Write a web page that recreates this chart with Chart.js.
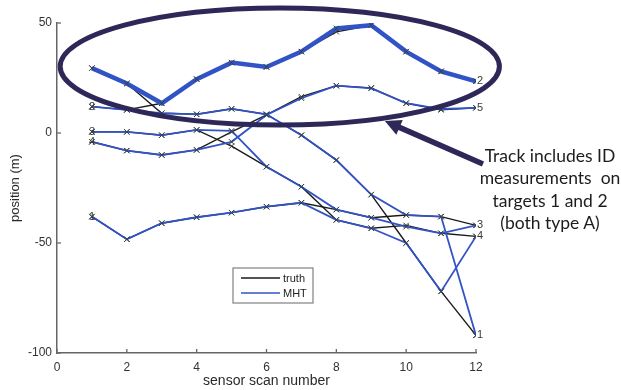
<!DOCTYPE html>
<html><head><meta charset="utf-8">
<script src="https://cdn.jsdelivr.net/npm/chart.js@4/dist/chart.umd.min.js"></script>
<style>
html,body{margin:0;padding:0;background:#fff;}
#wrap{position:relative;width:621px;height:390px;background:#fff;}
canvas{position:absolute;left:0;top:0;}
.note{position:absolute;left:470px;top:145px;width:160px;text-align:center;font-family:Lato,'Open Sans',sans-serif;font-size:17.5px;line-height:22.3px;color:#1c1c1c;white-space:nowrap;}
</style></head><body>
<div id="wrap"><canvas id="c" width="621" height="390"></canvas>
<div class="note">Track includes ID<br>measurements&nbsp; on<br>targets 1 and 2<br>(both type A)</div></div>
<script>
// ---- data ----
const scans = [1,2,3,4,5,6,7,8,9,10,11,12];
// truth (black)
const truthA = [29.5, 22.5, 9, 8.5, 11, 8.5, -1, -12.3, -28, -50, -72, -92];
const truthB = [12, 10.5, 13.5, 24.5, 32, 30, 37, 46, 49, 37, 28, 23.5];
const truthC = [0.5, 0.5, -1, 1.4, -6, -15.3, -24.4, -39.5, -43.3, -42, -45.6, -47];
const truthD = [-4, -8, -10, -7.7, 0.5, 8.2, 16.5, 21.5, 20.5, 13.5, 10.5, 11.5];
const truthE = [-38, -48.3, -41, -38.3, -36.2, -33.5, -31.7, -34.8, -38.5, -37.3, -38, -42];
// MHT (blue)
const mhtThick = [29.5, 22.5, 13.5, 24.5, 32, 30, 37, 47.5, 49, 37, 28, 23.5];
const mhtA = [12, 10.5, 9, 8.5, 11, 8.5, -1, -12.3, -28, -37.3, -38, -92];
const mhtC = [0.5, 0.5, -1, 1.4, 1, -15.3, -24.4, -34.8, -38.5, -42.6, -45.6, -42];
const mhtD = [-4, -8, -10, -7.7, -4, 8.2, 15.8, 21.5, 20.3, 13.6, 10.9, 11.4];
const mhtE = [-38, -48.3, -41, -38.3, -36.2, -33.5, -31.7, -39.5, -43.3, -50, -72, -47];
// track id labels: [scan, value, text]
const startLabels = [[1, 12, '2'], [1, 0.5, '3'], [1, -4, '4'], [1, -38, '1']];
const endLabels = [[12, 23.5, '2'], [12, 11.4, '5'], [12, -42, '3'], [12, -47, '4'], [12, -92, '1']];
const xTicks = [0, 2, 4, 6, 8, 10, 12];
const yTicks = [-100, -50, 0, 50];
const legendItems = ['truth', 'MHT'];
// annotation ellipse/arrow in data units
const ellipseData = {cx: 6.38, cy: 30.2, rx: 6.29, ry: 26.6};
const arrowData = {x0: 12.2, y0: -14.1, x1: 9.39, y1: 5.45};

const BLACK = '#1a1a1a', BLUE = '#3253c6', MARK = '#34403a', NAVY = '#2d2858';

function mk(arr, color, width, order) {
  return {
    data: arr.map((v, i) => ({x: scans[i], y: v})),
    borderColor: color, borderWidth: width, fill: false, tension: 0,
    pointStyle: 'crossRot', pointRadius: 3.8, pointBorderColor: MARK,
    pointBorderWidth: 1, pointBackgroundColor: 'transparent', order
  };
}

const overlay = {
  id: 'overlay',
  afterDraw(chart) {
    const {ctx, scales: {x, y}, chartArea: ca} = chart;
    ctx.save();
    // inward tick marks
    ctx.strokeStyle = '#666'; ctx.lineWidth = 1.3;
    xTicks.forEach(t => { const p = x.getPixelForValue(t); ctx.beginPath(); ctx.moveTo(p, ca.bottom); ctx.lineTo(p, ca.bottom - 4); ctx.stroke(); });
    yTicks.forEach(t => { const p = y.getPixelForValue(t); ctx.beginPath(); ctx.moveTo(ca.left, p); ctx.lineTo(ca.left + 4, p); ctx.stroke(); });
    // track labels
    ctx.fillStyle = '#3a3a3a'; ctx.font = '11px "Liberation Sans", Arial, sans-serif'; ctx.textBaseline = 'middle'; ctx.textAlign = 'left';
    startLabels.forEach(([sx, sv, t]) => ctx.fillText(t, x.getPixelForValue(sx) - 3, y.getPixelForValue(sv)));
    endLabels.forEach(([sx, sv, t]) => ctx.fillText(t, x.getPixelForValue(sx) + 1, y.getPixelForValue(sv)));
    // ellipse
    const cx = x.getPixelForValue(ellipseData.cx), cy = y.getPixelForValue(ellipseData.cy);
    const rx = x.getPixelForValue(ellipseData.cx + ellipseData.rx) - cx;
    const ry = cy - y.getPixelForValue(ellipseData.cy + ellipseData.ry);
    ctx.strokeStyle = NAVY; ctx.lineWidth = 5;
    ctx.beginPath(); ctx.ellipse(cx, cy, rx, ry, 0, 0, Math.PI * 2); ctx.stroke();
    // arrow
    const ax0 = x.getPixelForValue(arrowData.x0), ay0 = y.getPixelForValue(arrowData.y0);
    const ax1 = x.getPixelForValue(arrowData.x1), ay1 = y.getPixelForValue(arrowData.y1);
    const ang = Math.atan2(ay1 - ay0, ax1 - ax0);
    const hl = 16, hw = 8;
    const bx = ax1 - hl * Math.cos(ang), by = ay1 - hl * Math.sin(ang);
    ctx.lineWidth = 5.5; ctx.lineCap = 'butt';
    ctx.beginPath(); ctx.moveTo(ax0, ay0); ctx.lineTo(bx + 2 * Math.cos(ang), by + 2 * Math.sin(ang)); ctx.stroke();
    ctx.fillStyle = NAVY;
    ctx.beginPath(); ctx.moveTo(ax1, ay1);
    ctx.lineTo(bx + hw * Math.sin(ang), by - hw * Math.cos(ang));
    ctx.lineTo(bx - hw * Math.sin(ang), by + hw * Math.cos(ang));
    ctx.closePath(); ctx.fill();
    // legend box
    const lx = 233, ly = 268, lw = 80, lh = 35;
    ctx.fillStyle = '#fff'; ctx.fillRect(lx, ly, lw, lh);
    ctx.strokeStyle = '#8a8a8a'; ctx.lineWidth = 1.3; ctx.strokeRect(lx, ly, lw, lh);
    const cols = [BLACK, BLUE];
    legendItems.forEach((t, i) => {
      const yy = ly + 10 + i * 15;
      ctx.strokeStyle = cols[i]; ctx.lineWidth = 1.6;
      ctx.beginPath(); ctx.moveTo(lx + 8, yy); ctx.lineTo(lx + 47, yy); ctx.stroke();
      ctx.fillStyle = '#1e1e1e'; ctx.font = '11px "Liberation Sans", Arial, sans-serif'; ctx.textAlign = 'left'; ctx.textBaseline = 'middle';
      ctx.fillText(t, lx + 50, yy + 0.5);
    });
    ctx.restore();
  }
};

new Chart(document.getElementById('c'), {
  type: 'line',
  data: {
    datasets: [
      mk(mhtThick, BLUE, 4.5, 0),
      mk(mhtA, BLUE, 1.8, 1),
      mk(mhtC, BLUE, 1.8, 1),
      mk(mhtD, BLUE, 1.8, 1),
      mk(mhtE, BLUE, 1.8, 1),
      mk(truthA, BLACK, 1.4, 2),
      mk(truthB, BLACK, 1.4, 2),
      mk(truthC, BLACK, 1.4, 2),
      mk(truthD, BLACK, 1.4, 2),
      mk(truthE, BLACK, 1.4, 2)
    ]
  },
  options: {
    responsive: false, animation: false, devicePixelRatio: 1,
    layout: {padding: {top: 23, right: 145, left: 0, bottom: 0}},
    plugins: {legend: {display: false}, tooltip: {enabled: false}},
    scales: {
      x: {
        type: 'linear', min: 0, max: 12,
        afterFit(s) { s.height = 37; },
        afterBuildTicks(s) { s.ticks = xTicks.map(v => ({value: v})); },
        grid: {display: false, drawTicks: false},
        border: {display: true, color: '#666', width: 1.5},
        ticks: {padding: 7, color: '#333', font: {family: '"Liberation Sans", Arial, sans-serif', size: 12}, maxRotation: 0},
        title: {display: true, text: 'sensor scan number', color: '#2a2a2a', font: {family: '"Liberation Sans", Arial, sans-serif', size: 14}, padding: {top: 0, bottom: 0}}
      },
      y: {
        type: 'linear', min: -100, max: 50,
        afterFit(s) { s.width = 57; },
        afterBuildTicks(s) { s.ticks = yTicks.map(v => ({value: v})); },
        grid: {display: false, drawTicks: false},
        border: {display: true, color: '#666', width: 1.5},
        ticks: {padding: 5, color: '#333', font: {family: '"Liberation Sans", Arial, sans-serif', size: 12}},
        title: {display: true, text: 'position (m)', color: '#2a2a2a', font: {family: '"Liberation Sans", Arial, sans-serif', size: 13}, padding: {top: 8, bottom: 0}}
      }
    }
  },
  plugins: [overlay]
});
</script>
</body></html>
